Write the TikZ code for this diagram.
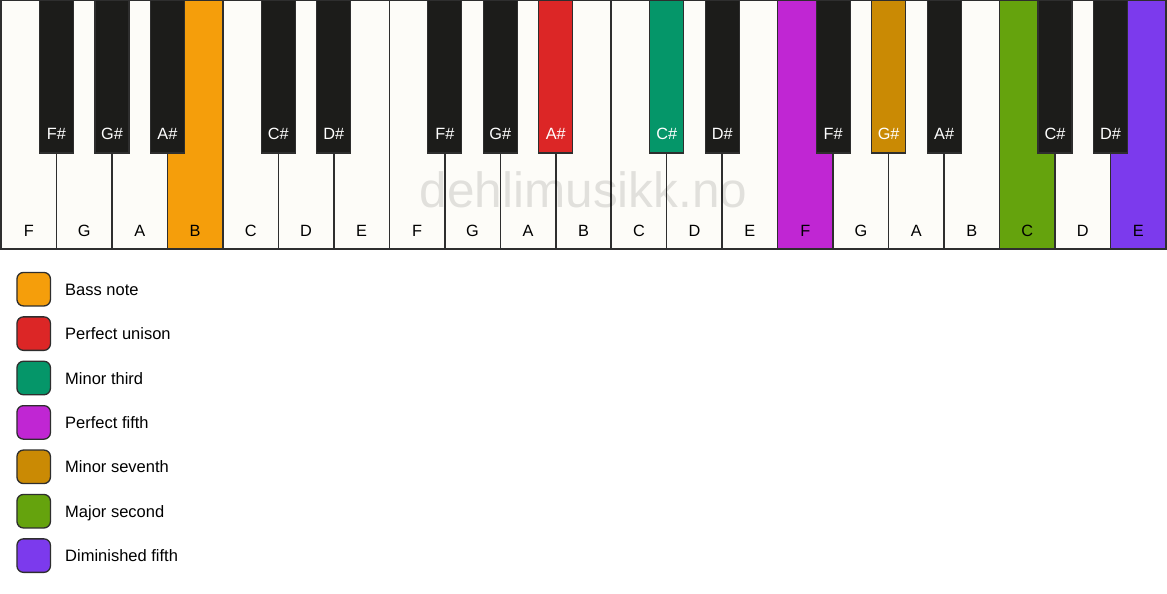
\documentclass[tikz,border=0pt]{standalone}
\usepackage{fontspec}
\setmainfont{Liberation Sans}
\definecolor{keywhite}{HTML}{FDFCF8}
\definecolor{keyblack}{HTML}{1C1C1A}
\definecolor{keyline}{HTML}{2E2E2E}
\definecolor{cbass}{HTML}{F59E0B}
\definecolor{cunison}{HTML}{DC2626}
\definecolor{cminthird}{HTML}{059669}
\definecolor{cfifth}{HTML}{C026D3}
\definecolor{cminsev}{HTML}{CA8A04}
\definecolor{cmajsec}{HTML}{65A30D}
\definecolor{cdimfifth}{HTML}{7C3AED}
\tikzset{
  whitekey/.style={rectangle, draw=keyline, line width=1.5pt, inner sep=0pt,
    minimum width=55.476pt, minimum height=248.5pt},
  blackkey/.style={rectangle, draw=keyline, line width=1.2pt, inner sep=0pt,
    minimum width=34pt, minimum height=152.5pt},
  wlabel/.style={anchor=base, inner sep=0pt, text=black, font=\fontsize{16.3}{19}\selectfont},
  blabel/.style={anchor=base, inner sep=0pt, text=white, font=\fontsize{16.3}{19}\selectfont},
  swatch/.style={rectangle, rounded corners=6.5pt, draw=keyline, line width=1.3pt,
    minimum width=33.5pt, minimum height=33.5pt, inner sep=0pt},
  legtext/.style={anchor=base west, inner sep=0pt, font=\fontsize{16.5}{19}\selectfont},
}
\begin{document}
\begin{tikzpicture}[x=1pt,y=-1pt]
\useasboundingbox[fill=white] (0,0) rectangle (1167,594);
% white keys
\foreach \n/\c [count=\i from 0] in {F/keywhite,G/keywhite,A/keywhite,B/cbass,C/keywhite,D/keywhite,E/keywhite,
  F/keywhite,G/keywhite,A/keywhite,B/keywhite,C/keywhite,D/keywhite,E/keywhite,
  F/cfifth,G/keywhite,A/keywhite,B/keywhite,C/cmajsec,D/keywhite,E/cdimfifth}{
  \node[whitekey, fill=\c] (w\i) at ({1+(\i+0.5)*55.476}, 124.75) {};
  \node[wlabel] (wl\i) at ({1+(\i+0.5)*55.476}, 236) {\n};
}
% watermark
\node[anchor=base, inner sep=0pt, text=black, opacity=0.11, font=\fontsize{49.5}{52}\selectfont] (wm) at (583.5, 207) {dehlimusikk.no};
% black keys
\foreach \b/\n/\c in {1/F\#/keyblack,2/G\#/keyblack,3/A\#/keyblack,5/C\#/keyblack,6/D\#/keyblack,
  8/F\#/keyblack,9/G\#/keyblack,10/A\#/cunison,12/C\#/cminthird,13/D\#/keyblack,
  15/F\#/keyblack,16/G\#/cminsev,17/A\#/keyblack,19/C\#/keyblack,20/D\#/keyblack}{
  \node[blackkey, fill=\c] (b\b) at ({1+\b*55.476}, 76.75) {};
  \node[blabel] (bl\b) at ({1+\b*55.476}, 139) {\n};
}
% legend
\foreach \c/\t [count=\k from 0] in {cbass/Bass note, cunison/Perfect unison, cminthird/Minor third,
  cfifth/Perfect fifth, cminsev/Minor seventh, cmajsec/Major second, cdimfifth/Diminished fifth}{
  \node[swatch, fill=\c] (s\k) at (33.7, {289.2+\k*44.4}) {};
  \node[legtext] (t\k) at (65, {295.2+\k*44.4}) {\t};
}
\end{tikzpicture}
\end{document}
